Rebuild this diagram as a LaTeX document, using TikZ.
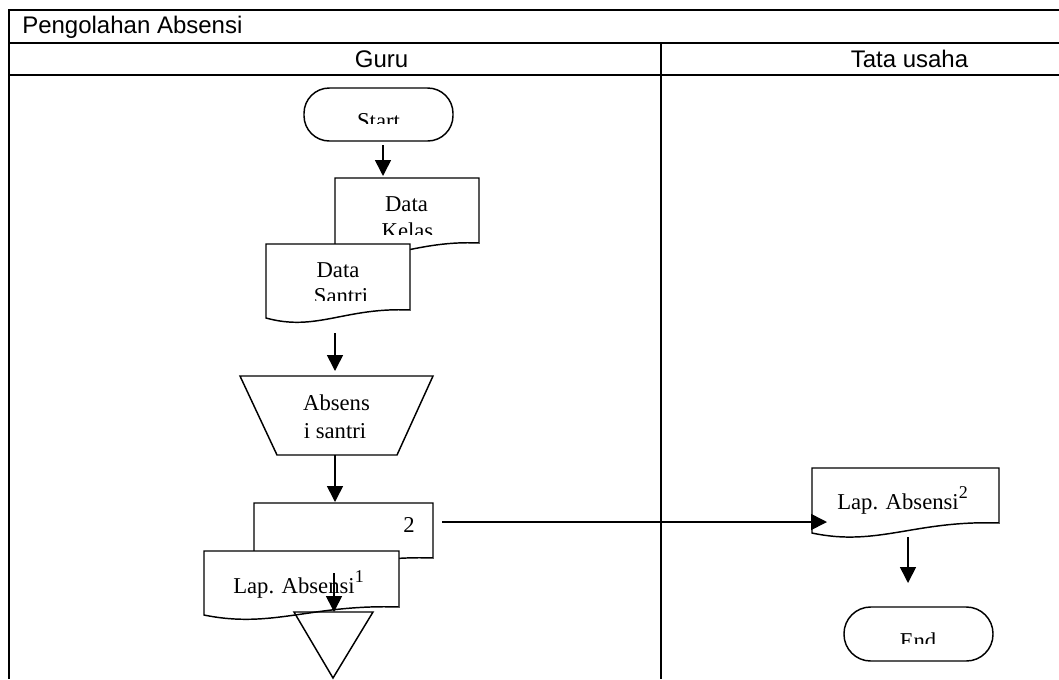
\documentclass[tikz,border=0pt]{standalone}
\usepackage{fontspec}
\setmainfont{Liberation Serif}
\newfontfamily\lanefont{Liberation Sans}
\usetikzlibrary{arrows.meta}

% document symbol: left x, right x, top y, right bottom y, left bottom y
\newcommand\drawdocsym[5]{%
  \draw[shapeline] (#1,#3) -- (#2,#3) -- (#2,#4)
    .. controls ({#1+0.55*(#2-#1)},{#4-3}) and ({#1+0.35*(#2-#1)},{#5+14}) .. (#1,#5)
    -- cycle;}
% raised copy number after a label
\newcommand\copynum[1]{\raisebox{8pt}{\fontsize{13.5}{14}\selectfont #1}}

\begin{document}
\begin{tikzpicture}[x=0.75pt,y=-0.75pt,
  lane/.style={line width=1.6pt},
  shapeline/.style={line width=1.1pt, fill=white},
  flow/.style={line width=1.2pt, -{Triangle[length=12pt,width=12pt]}},
  lbl/.style={inner sep=0pt, font=\fontsize{17}{20}\selectfont},
  hdr/.style={inner sep=0pt, font=\lanefont\fontsize{18}{20}\selectfont},
]
\useasboundingbox (0,0) rectangle (1059,679);
\fill[white] (0,0) rectangle (1059,679);

% swimlane frame
\draw[lane] (1059,10) -- (9,10) -- (9,679);
\draw[lane] (9,43) -- (1059,43);
\draw[lane] (9,75) -- (1059,75);
\draw[lane] (661,43) -- (661,679);
\node[hdr, anchor=base west] (title) at (22,33) {Pengolahan Absensi};
\node[hdr, anchor=base] (guru) at (381.5,67) {Guru};
\node[hdr, anchor=base] (tatausaha) at (909.5,67) {Tata usaha};

% terminal: Start
\draw[shapeline, rounded corners=19pt] (304,88) rectangle (453,141);
\begin{scope}
  \clip (304,88) rectangle (453,123);
  \node[lbl, anchor=base] (startlbl) at (378.5,128) {Start};
\end{scope}

% documents: Data Kelas and Data Santri
\drawdocsym{335}{479}{178}{243}{251}
\node[lbl, anchor=base] (kelas1) at (406.5,211) {Data};
\begin{scope}
  \clip (335,178) rectangle (479,234);
  \node[lbl, anchor=base] (kelas2) at (407.5,238) {Kelas};
\end{scope}

\drawdocsym{266}{410}{244}{310}{318}
\node[lbl, anchor=base] (santri1) at (338,277) {Data};
\begin{scope}
  \clip (266,244) rectangle (410,300);
  \node[lbl, anchor=base] (santri2) at (341,303) {Santri};
\end{scope}

% manual operation: Absensi santri
\draw[shapeline] (240,376) -- (433,376) -- (397,455) -- (277,455) -- cycle;
\node[lbl, anchor=base] (abs1) at (336.5,410) {Absens};
\node[lbl, anchor=base] (abs2) at (335,438) {i santri};

% output documents
\drawdocsym{254}{433}{503}{558}{566}
\node[lbl, anchor=base] (copy2) at (409,532) {2};
\drawdocsym{204}{399}{551}{607}{615}
\node[lbl, anchor=base west] (lap1) at (233,593) {Lap. Absensi\copynum{1}};

\drawdocsym{812}{999}{468}{523}{533}
\node[lbl, anchor=base west] (lap2) at (837,509) {Lap. Absensi\copynum{2}};

% terminal: End
\draw[shapeline, rounded corners=20pt] (844,607) rectangle (993,661);
\begin{scope}
  \clip (844,607) rectangle (993,643);
  \node[lbl, anchor=base] (endlbl) at (918,648) {End};
\end{scope}

% connector end points
\coordinate (startout) at (383,145);
\coordinate (kelasin) at (383,176);
\coordinate (santriout) at (335,333);
\coordinate (absin) at (335,371);
\coordinate (absout) at (335,455);
\coordinate (lapin) at (335,502);
\coordinate (lap1mid) at (334,573);
\coordinate (storein) at (334,612);
\coordinate (copyout) at (442,522);
\coordinate (lap2in) at (827,522);
\coordinate (lap2out) at (908,537);
\coordinate (endin) at (908,583);

\draw[flow] (startout) -- (kelasin);
\draw[flow] (santriout) -- (absin);
\draw[flow] (absout) -- (lapin);
\draw[flow] (lap1mid) -- (storein);
\draw[flow] (copyout) -- (lap2in);
\draw[flow] (lap2out) -- (endin);

% offline storage
\draw[line width=1.1pt] (294,612) -- (373,612) -- (333,678) -- cycle;
\end{tikzpicture}
\end{document}
